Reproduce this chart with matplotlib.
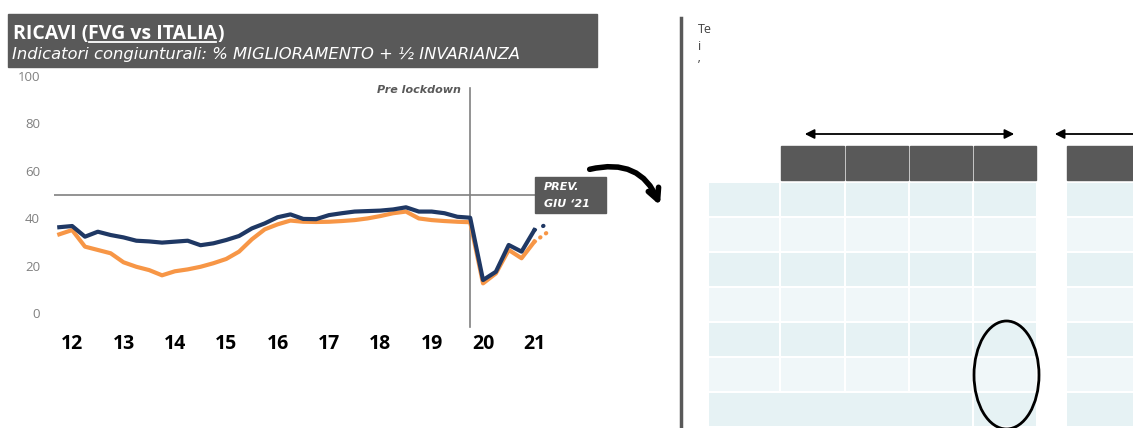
import numpy as np
import matplotlib
matplotlib.use("Agg")
import matplotlib.pyplot as plt
from matplotlib.patches import Rectangle, Ellipse, FancyArrowPatch

# trimestri: indice 0 = primo punto della serie
serie_blu = [36.2, 36.7, 32.2, 34.3, 32.9, 31.9, 30.5, 30.2, 29.7, 30.1,
             30.5, 28.6, 29.4, 30.8, 32.5, 35.7, 37.8, 40.4, 41.6, 39.7,
             39.6, 41.3, 42.1, 42.8, 43.0, 43.2, 43.7, 44.6, 42.8, 42.8,
             42.1, 40.6, 40.2, 13.9, 17.4, 28.7, 25.9, 35.0]
serie_arancio = [33.2, 35.0, 28.0, 26.6, 25.2, 21.4, 19.5, 18.1, 15.9, 17.6,
                 18.4, 19.5, 21.0, 22.8, 25.9, 31.1, 35.3, 37.4, 39.0, 38.5,
                 38.4, 38.5, 38.8, 39.2, 39.9, 40.9, 42.1, 42.8, 39.9, 39.2,
                 38.8, 38.5, 38.3, 12.5, 16.7, 26.6, 23.1, 30.1]
prev_blu = 37.5
prev_arancio = 34.0
anni = ['12', '13', '14', '15', '16', '17', '18', '19', '20', '21']
lockdown = 32
soglia = 50

BLU = '#1f3864'
ARANCIO = '#f79646'
GRIGIO = '#595959'
W, H = 1133, 428

fig = plt.figure(figsize=(W / 100, H / 100), dpi=100)

# overlay in pixel coordinates for decorations
ov = fig.add_axes([0, 0, 1, 1], zorder=0)
ov.set_xlim(0, W)
ov.set_ylim(H, 0)
ov.axis('off')

# ---------------- left chart ----------------
left, right, top, bottom = 54, 570, 76, 313
ax = fig.add_axes([left / W, (H - bottom) / H, (right - left) / W, (bottom - top) / H], zorder=2)
ax.patch.set_alpha(0)
x = np.arange(len(serie_blu))
x0, step = 59.3, 12.84
ax.set_xlim((left - x0) / step, (right - x0) / step)
ax.set_ylim(0, 100)

ax.axhline(soglia, color='#808080', lw=1.2, zorder=1)
ax.plot([lockdown, lockdown], [-6, 95], color='#808080', lw=1.2, clip_on=False, zorder=1)

ax.plot(x, serie_arancio, color=ARANCIO, lw=3, solid_joinstyle='round', zorder=3)
ax.plot(x, serie_blu, color=BLU, lw=3, solid_joinstyle='round', zorder=4)
ax.plot([x[-1], x[-1] + 1], [serie_arancio[-1], prev_arancio], color=ARANCIO, lw=3,
        linestyle=(0, (0.1, 1.6)), dash_capstyle='round', zorder=3)
ax.plot([x[-1], x[-1] + 1], [serie_blu[-1], prev_blu], color=BLU, lw=3,
        linestyle=(0, (0.1, 2.2)), dash_capstyle='round', zorder=4)

ax.set_yticks(range(0, 101, 20))
ax.set_xticks(np.arange(len(anni)) * 4 + 1)
ax.set_xticklabels(anni)
ax.tick_params(axis='y', length=0, pad=10, labelsize=9.5, labelcolor='#808080')
ax.tick_params(axis='x', length=0, pad=15, labelsize=14)
for t in ax.get_xticklabels():
    t.set_fontweight('bold')
for t in ax.get_xticklabels() + ax.get_yticklabels():
    t.set_family('Open Sans')
for s in ax.spines.values():
    s.set_visible(False)

ax.text(lockdown - 0.75, 94, 'Pre lockdown', ha='right', va='center', fontsize=8,
        style='italic', weight='bold', color=GRIGIO, family='DejaVu Sans')

# PREV box
ax.add_patch(Rectangle((535, 177), 71, 36, transform=ov.transData, color=GRIGIO,
                       clip_on=False, zorder=6))
ax.text(544, 187, 'PREV.', transform=ov.transData, color='white', fontsize=8,
        style='italic', weight='bold', va='center', family='DejaVu Sans', zorder=7)
ax.text(544, 204, 'GIU \u201821', transform=ov.transData, color='white', fontsize=8,
        style='italic', weight='bold', va='center', family='DejaVu Sans', zorder=7)

# title box
ov.add_patch(Rectangle((8, 14), 589, 53, color=GRIGIO))
renderer = fig.canvas.get_renderer()
tfont = dict(color='white', fontsize=14, weight='bold', family='Open Sans', va='baseline')
t1 = ov.text(13, 39, 'RICAVI (', **tfont)
b1 = t1.get_window_extent(renderer)
xs = ov.transData.inverted().transform((b1.x1, 0))[0]
t2 = ov.text(xs, 39, 'FVG vs ITALIA', **tfont)
b2 = t2.get_window_extent(renderer)
xe = ov.transData.inverted().transform((b2.x1, 0))[0]
ov.text(xe, 39, ')', **tfont)
ov.plot([xs + 1, xe - 1], [41.5, 41.5], color='white', lw=1.3)
ov.text(12, 59, 'Indicatori congiunturali: % MIGLIORAMENTO + \u00bd INVARIANZA',
        color='white', fontsize=11.8, style='italic', family='DejaVu Sans', va='baseline')

# curved arrow
ov.add_patch(FancyArrowPatch((587, 170), (661, 208), connectionstyle='arc3,rad=-0.45',
                             arrowstyle='->', mutation_scale=20, lw=4, color='black',
                             capstyle='round', joinstyle='round'))

# ---------------- right panel ----------------
ov.plot([681, 681], [18, H], color=GRIGIO, lw=2.5)
for yy, s in [(29, 'Te'), (46, 'i'), (65, '\u2019')]:
    ov.text(698, yy, s, fontsize=9, color='#404040', va='center', family='Open Sans')

cols = [(709, 779), (781, 844), (846, 908), (910, 972), (974, 1036), (1067, 1133)]
for a, b in cols[1:]:
    ov.add_patch(Rectangle((a, 146), b - a, 34, color=GRIGIO))
row_y = [183, 218, 253, 288, 323, 358, 393]
for r, y0 in enumerate(row_y):
    col = '#e6f2f4' if r % 2 == 0 else '#f0f7f9'
    if r == len(row_y) - 1:
        cells = [(709, 972), (974, 1036), (1067, 1133)]
    else:
        cells = cols
    for a, b in cells:
        ov.add_patch(Rectangle((a, y0), b - a, 33, color=col, lw=0))

ov.add_patch(FancyArrowPatch((802, 134), (1017, 134), arrowstyle='<|-|>',
                             mutation_scale=14, lw=1.3, color='black'))
ov.add_patch(FancyArrowPatch((1052, 134), (1147, 134), arrowstyle='<|-|>',
                             mutation_scale=14, lw=1.3, color='black'))
ov.add_patch(Ellipse((1006.5, 375), 65, 108, fill=False, lw=2, color='black'))

fig.savefig('out.png', dpi=100)
